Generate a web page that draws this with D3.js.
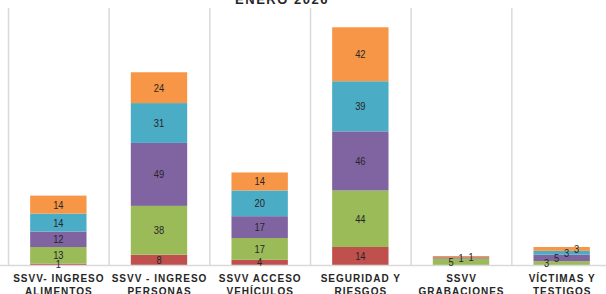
<!DOCTYPE html>
<html>
<head>
<meta charset="utf-8">
<script src="https://cdn.jsdelivr.net/npm/d3@7"></script>
<style>
  body { margin: 0; background: #fff; overflow: hidden; }
  svg { display: block; }
</style>
</head>
<body>
<svg></svg>
<script>
// categories (two lines each) and the five stacked series, bottom to top
const categories = ['SSVV- INGRESO ALIMENTOS', 'SSVV - INGRESO PERSONAS', 'SSVV ACCESO VEHÍCULOS',
  'SEGURIDAD Y RIESGOS', 'SSVV GRABACIONES', 'VÍCTIMAS Y TESTIGOS'];
const categoryLines = [
  ['SSVV- INGRESO', 'ALIMENTOS'],
  ['SSVV - INGRESO', 'PERSONAS'],
  ['SSVV ACCESO', 'VEHÍCULOS'],
  ['SEGURIDAD Y', 'RIESGOS'],
  ['SSVV', 'GRABACIONES'],
  ['VÍCTIMAS Y', 'TESTIGOS']
];
const seriesNames = ['s1', 's2', 's3', 's4', 's5'];
const s1 = [1, 8, 4, 14, 0, 0];
const s2 = [13, 38, 17, 44, 5, 3];
const s3 = [12, 49, 17, 46, 1, 5];
const s4 = [14, 31, 20, 39, 0, 3];
const s5 = [14, 24, 14, 42, 1, 3];
const title = 'ENERO 2026';
const yMax = 200;

const colors = ['#C0504D', '#9BBB59', '#8064A2', '#4BACC6', '#F79646'];

const width = 606, height = 294;
const svg = d3.select('svg').attr('width', width).attr('height', height);

const seriesValues = [s1, s2, s3, s4, s5];
const rows = categories.map((c, i) => {
  const r = { cat: c, idx: i };
  seriesNames.forEach((s, k) => r[s] = seriesValues[k][i]);
  return r;
});

const x = d3.scaleBand().domain(categories).range([8, 612]).paddingInner(0.44).paddingOuter(0.22);
const y = d3.scaleLinear().domain([0, yMax]).range([265, 8]);
const step = x.step();

// vertical separators between categories
svg.append('g')
  .selectAll('line')
  .data(d3.range(categories.length + 1))
  .enter().append('line')
  .attr('x1', i => 8 + i * step + 0.5)
  .attr('x2', i => 8 + i * step + 0.5)
  .attr('y1', y(yMax))
  .attr('y2', y(0))
  .attr('stroke', '#d9d9d9')
  .attr('stroke-width', 1.5);

const stack = d3.stack().keys(seriesNames)(rows);

const layer = svg.append('g')
  .selectAll('g')
  .data(stack)
  .enter().append('g')
  .attr('fill', (d, i) => colors[i]);

layer.selectAll('rect')
  .data(d => d)
  .enter().append('rect')
  .attr('x', d => x(d.data.cat))
  .attr('width', x.bandwidth())
  .attr('y', d => y(d[1]))
  .attr('height', d => y(d[0]) - y(d[1]));

// baseline
svg.append('line')
  .attr('x1', 0).attr('x2', width)
  .attr('y1', y(0) + 0.5).attr('y2', y(0) + 0.5)
  .attr('stroke', '#d9d9d9')
  .attr('stroke-width', 1.5);

// data labels; small stacks get their labels spread sideways
const labels = [];
stack.forEach((ser, k) => {
  ser.forEach(d => {
    const v = d[1] - d[0];
    if (v <= 0) return;
    labels.push({ k, v, d, cat: d.data.cat, idx: d.data.idx });
  });
});
const smallCats = categories.filter((c, i) => y(0) - y(d3.sum(seriesValues, s => s[i])) < 25);
const labelX = l => {
  const cx = x(l.cat) + x.bandwidth() / 2;
  if (!smallCats.includes(l.cat)) return cx;
  const same = labels.filter(o => o.cat === l.cat);
  const j = same.indexOf(l);
  return cx + (j - (same.length - 1) / 2) * 10;
};

svg.append('g')
  .selectAll('text')
  .data(labels)
  .enter().append('text')
  .attr('x', labelX)
  .attr('y', l => (y(l.d[0]) + y(l.d[1])) / 2)
  .attr('dy', '0.36em')
  .attr('text-anchor', 'middle')
  .attr('font-family', '"Liberation Sans", Arial, sans-serif')
  .attr('font-size', 11)
  .attr('fill', '#262626')
  .attr('transform', l => {
    const lx = labelX(l);
    return `translate(${lx},0) scale(0.85,1) translate(${-lx},0)`;
  })
  .text(l => l.v);

// category labels
const catLabel = svg.append('g')
  .selectAll('text')
  .data(categories)
  .enter().append('text')
  .attr('text-anchor', 'middle')
  .attr('font-family', '"Liberation Sans", Arial, sans-serif')
  .attr('font-weight', 'bold')
  .attr('font-size', 10)
  .attr('letter-spacing', 1)
  .attr('fill', '#262626');

catLabel.selectAll('tspan')
  .data((d, i) => categoryLines[i].map(t => ({ t, c: d })))
  .enter().append('tspan')
  .attr('x', d => x(d.c) + x.bandwidth() / 2 + 0.5)
  .attr('y', (d, j) => 282 + j * 13)
  .text(d => d.t);

// title (cut off at the top in the source)
svg.append('text')
  .attr('x', 282)
  .attr('y', 4)
  .attr('text-anchor', 'middle')
  .attr('font-family', '"Liberation Sans", Arial, sans-serif')
  .attr('font-weight', 'bold')
  .attr('font-size', 13)
  .attr('letter-spacing', 1.5)
  .attr('fill', '#262626')
  .text(title);
</script>
</body>
</html>
